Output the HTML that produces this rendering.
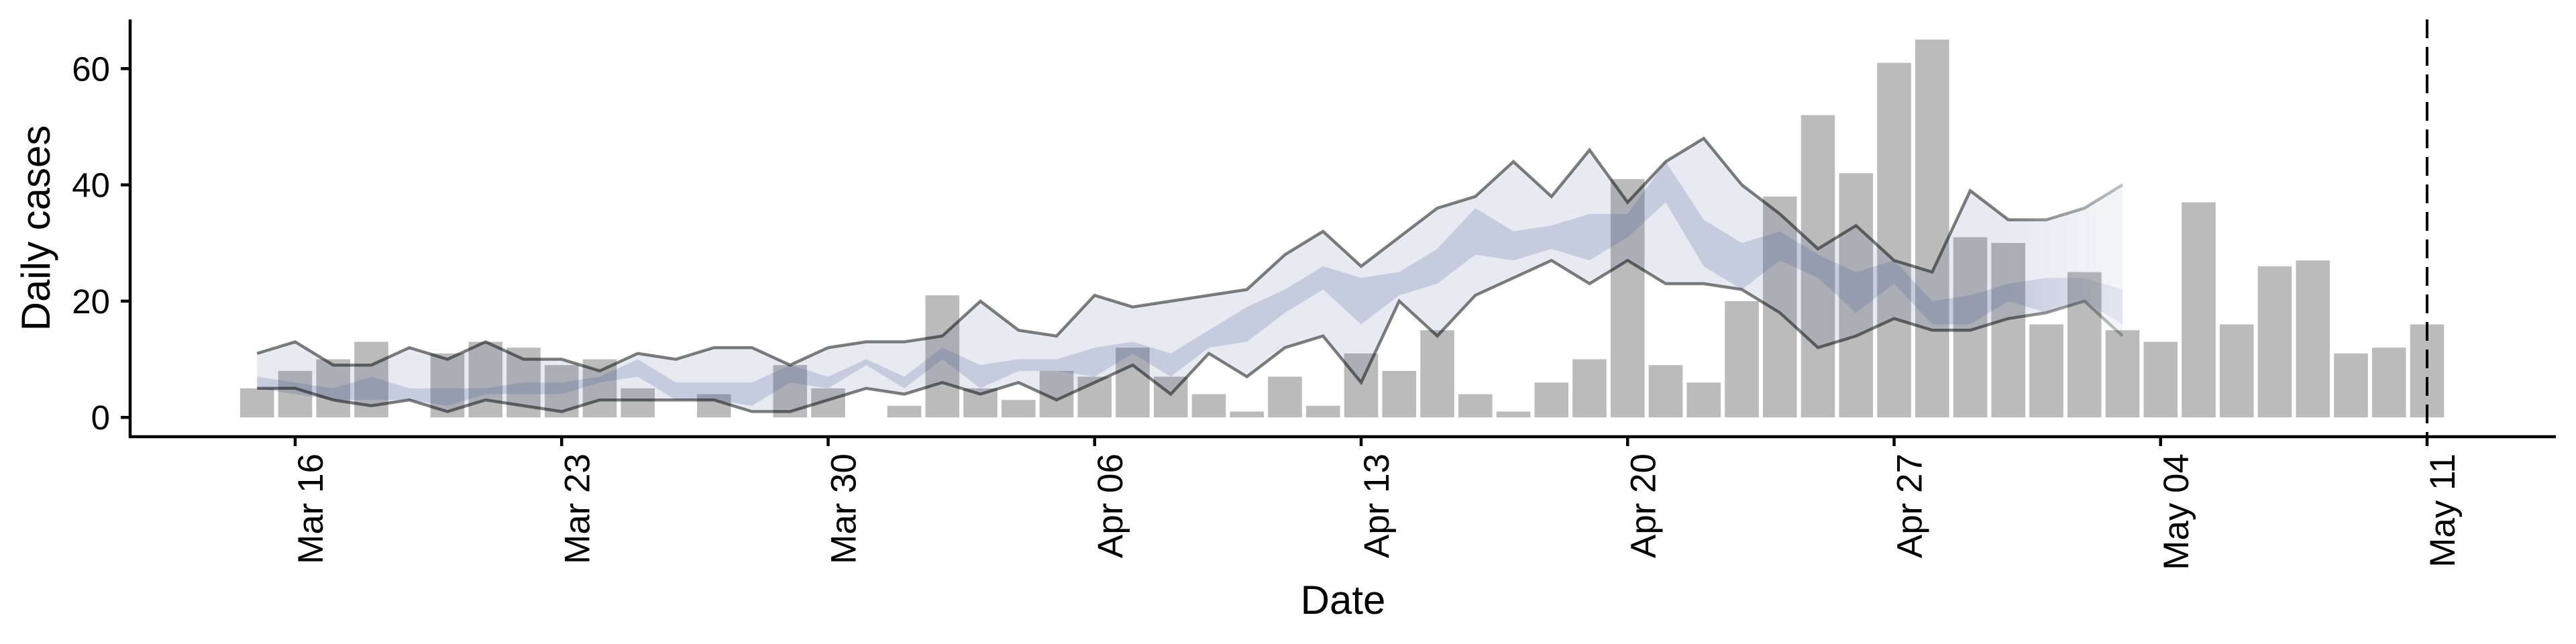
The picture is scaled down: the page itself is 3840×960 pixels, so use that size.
<!DOCTYPE html>
<html><head><meta charset="utf-8"><style>
html,body{margin:0;padding:0;background:#fff;}
svg{display:block;font-family:"Liberation Sans",Arial,sans-serif;}
</style></head><body>
<svg id="chart" width="3840" height="960" viewBox="0 0 3840 960" xmlns="http://www.w3.org/2000/svg">
<defs>
<linearGradient id="fadeGrad" gradientUnits="userSpaceOnUse" x1="2990" y1="0" x2="3170" y2="0">
<stop offset="0" stop-color="#fff"/><stop offset="1" stop-color="#777"/>
</linearGradient>
<mask id="fadeMask" maskUnits="userSpaceOnUse" x="0" y="0" width="3840" height="960">
<rect x="0" y="0" width="3840" height="960" fill="url(#fadeGrad)"/>
</mask>
</defs>
<g id="bars"></g>
<g id="series" mask="url(#fadeMask)"></g>
<g id="axes"></g>
</svg>
<script>
const startDate = "Mar 15";
const barValues = [5,8,10,13,0,11,13,12,9,10,5,0,4,0,9,5,0,
 2,21,5,3,8,7,12,7,4,1,7,2,11,8,15,4,1,6,10,41,9,6,20,38,52,42,61,65,31,30,
 16,25,15,13,37,16,26,27,11,12,16];
const upperLine = [11,13,9,9,12,10,13,10,10,8,11,10,12,12,9,12,13,
 13,14,20,15,14,21,19,20,21,22,28,32,26,31,36,38,44,38,46,37,44,48,40,35,29,33,27,25,39,34,
 34,36,40];
const lowerLine = [5,5,3,2,3,1,3,2,1,3,3,3,3,1,1,3,5,
 4,6,4,6,3,6,9,4,11,7,12,14,6,20,14,21,24,27,23,27,23,23,22,18,12,14,17,15,15,17,
 18,20,14];
const innerUpper = [7,6,5,7,5,5,5,6,6,7,10,6,6,6,9,7,10,
 7,12,9,10,10,12,13,11,15,19,22,26,24,25,29,36,32,33,35,35,44,34,30,32,28,25,27,20,21,23,
 24,24,22];
const innerLower = [5,4,3,3,3,2,4,4,4,6,7,3,3,2,6,5,9,
 5,10,5,8,8,7,11,7,12,13,18,22,16,21,23,28,27,29,27,31,37,26,22,27,24,18,23,16,16,20,
 18,20,16];
const yTicks = [0,20,40,60];
const xTickLabels = ["Mar 16","Mar 23","Mar 30","Apr 06","Apr 13","Apr 20","Apr 27","May 04","May 11"];
const xTickDays = [1,8,15,22,29,36,43,50,57];
const cutoffDay = 57;

const NS="http://www.w3.org/2000/svg";
function X(d){return 383.25+56.75*d;}
function Y(v){return 622.2-8.665*v;}
function mk(tag,attrs,parent){const e=document.createElementNS(NS,tag);for(const k in attrs)e.setAttribute(k,attrs[k]);parent.appendChild(e);return e;}
const barsG=document.getElementById('bars'),seriesG=document.getElementById('series'),axesG=document.getElementById('axes');

barValues.forEach((v,i)=>{
 if(v<=0)return;
 const r=mk('rect',{x:X(i)-25.3,y:Y(v),width:50.6,height:Y(0)-Y(v),fill:'#bbbbbb'},barsG);
 
 
});

function band(lo,hi){
 let d='';
 hi.forEach((v,i)=>{d+=(i?'L':'M')+X(i)+','+Y(v);});
 for(let i=lo.length-1;i>=0;i--)d+='L'+X(i)+','+Y(lo[i]);
 return d+'Z';
}
const outer=mk('path',{d:band(lowerLine,upperLine),fill:'#3b4f8a','fill-opacity':0.12},seriesG);


const inner=mk('path',{d:band(innerLower,innerUpper),fill:'#3b4f8a','fill-opacity':0.2},seriesG);


function line(arr){return arr.map((v,i)=>(i?'L':'M')+X(i)+','+Y(v)).join('');}
const ul=mk('path',{d:line(upperLine),fill:'none',stroke:'#000','stroke-opacity':0.5,'stroke-width':4.5,'stroke-linejoin':'miter'},seriesG);


const ll=mk('path',{d:line(lowerLine),fill:'none',stroke:'#000','stroke-opacity':0.5,'stroke-width':4.5},seriesG);



const ya=mk('line',{x1:194,y1:29,x2:194,y2:653,stroke:'#000','stroke-width':4.5},axesG);


const xa=mk('line',{x1:192,y1:651,x2:3810,y2:651,stroke:'#000','stroke-width':4.5},axesG);


yTicks.forEach(v=>{
 mk('line',{x1:180,y1:Y(v),x2:194,y2:Y(v),stroke:'#000','stroke-width':4.5},axesG);
 const t=mk('text',{x:164,y:Y(v)+18,'font-size':51,'text-anchor':'end',fill:'#000'},axesG);
 t.textContent=v;
 
 
});
xTickDays.forEach((d,i)=>{
 mk('line',{x1:X(d),y1:651,x2:X(d),y2:665,stroke:'#000','stroke-width':4.5},axesG);
 const t=mk('text',{transform:'translate('+(X(d)+41)+',676) rotate(-90)','font-size':53,'text-anchor':'end',fill:'#000'},axesG);
 t.textContent=xTickLabels[i];
 
 
});
const cut=mk('line',{x1:X(cutoffDay),y1:29,x2:X(cutoffDay),y2:651,stroke:'#000','stroke-width':4,'stroke-dasharray':'28 13'},axesG);


const yt=mk('text',{transform:'translate(74,340) rotate(-90)','font-size':60,'text-anchor':'middle',fill:'#000'},axesG);
yt.textContent='Daily cases';


const xt=mk('text',{x:2002,y:915,'font-size':60,'text-anchor':'middle',fill:'#000'},axesG);
xt.textContent='Date';


</script>
</body></html>
